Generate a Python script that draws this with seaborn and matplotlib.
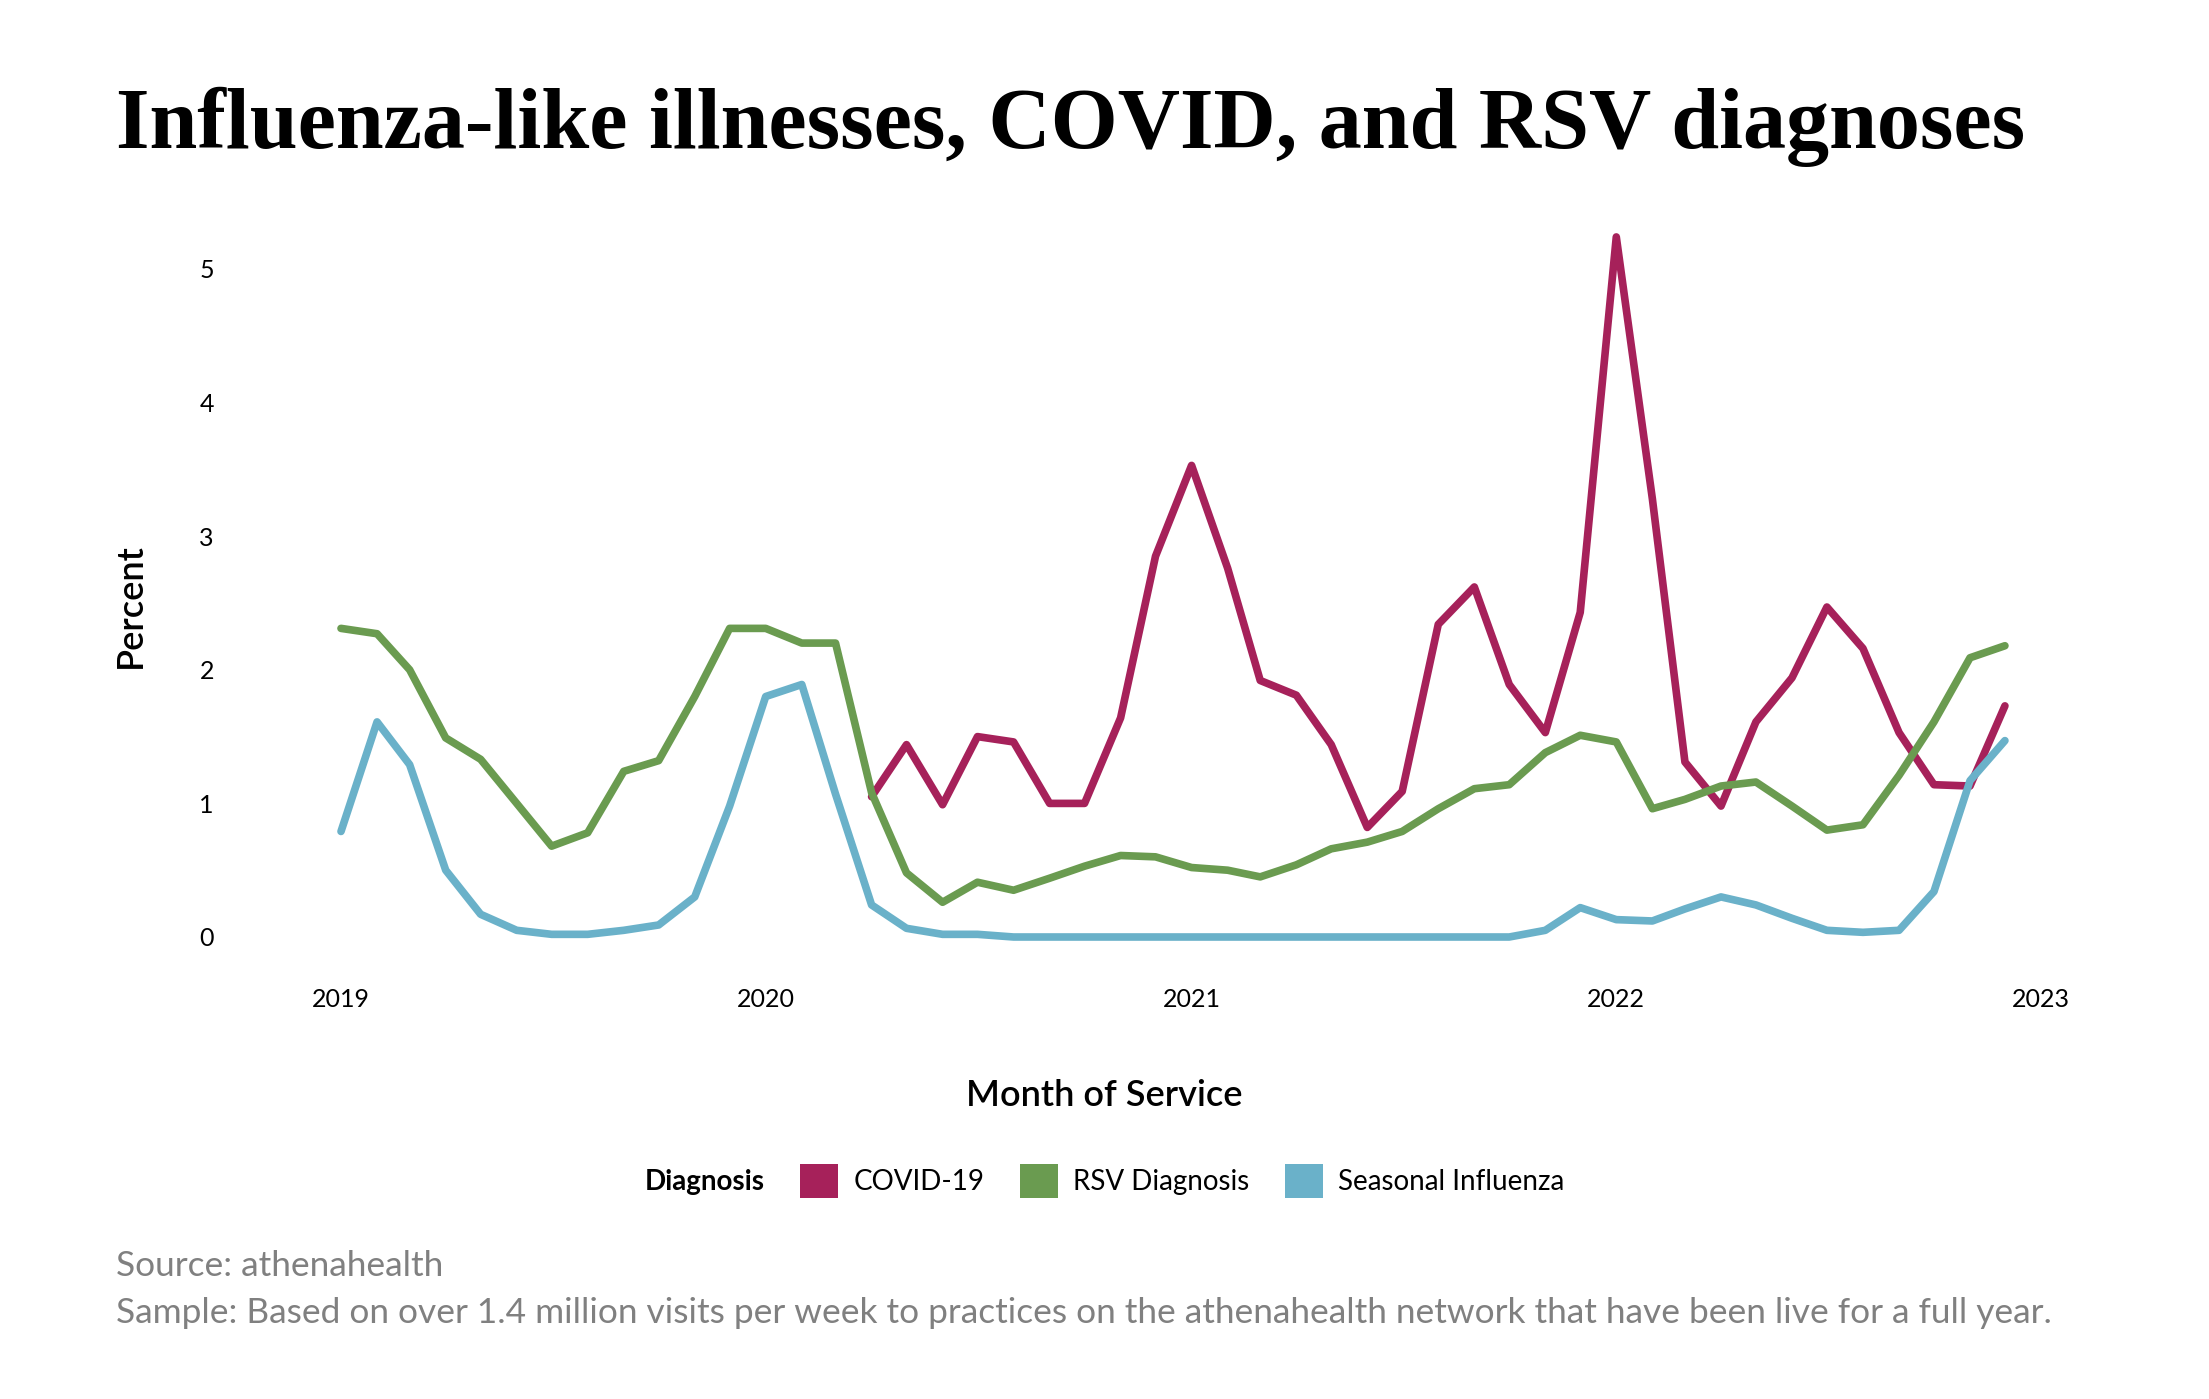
import pandas as pd
import numpy as np
import matplotlib
matplotlib.use('Agg')
from matplotlib import pyplot as plt
import matplotlib.dates as mdates
from matplotlib.patches import Patch
import seaborn as sns

# monthly values, Jan 2019 .. Dec 2022
months = pd.date_range('2019-01-01', '2022-12-01', freq='MS')

covid = [np.nan] * 15 + [
    1.05, 1.44, 0.99, 1.50, 1.46, 1.00, 1.00, 1.64, 2.85,
    3.53, 2.76, 1.92, 1.81, 1.44, 0.82, 1.09, 2.34, 2.62, 1.89, 1.53, 2.43,
    5.24, 3.28, 1.31, 0.98, 1.61, 1.94, 2.47, 2.16, 1.53, 1.14, 1.13, 1.73]

rsv = [2.31, 2.27, 2.00, 1.49, 1.33, 1.00, 0.68, 0.78, 1.24, 1.32, 1.80, 2.31,
       2.31, 2.20, 2.20, 1.08, 0.48, 0.26, 0.41, 0.35, 0.44, 0.53, 0.61, 0.60,
       0.52, 0.50, 0.45, 0.54, 0.66, 0.71, 0.79, 0.96, 1.11, 1.14, 1.38, 1.51,
       1.46, 0.96, 1.03, 1.13, 1.16, 0.98, 0.80, 0.84, 1.21, 1.61, 2.09, 2.18]

flu = [0.79, 1.61, 1.29, 0.50, 0.17, 0.05, 0.02, 0.02, 0.05, 0.09, 0.30, 0.98,
       1.80, 1.89, 1.07, 0.24, 0.065, 0.02, 0.02, 0.0, 0.0, 0.0, 0.0, 0.0,
       0.0, 0.0, 0.0, 0.0, 0.0, 0.0, 0.0, 0.0, 0.0, 0.0, 0.05, 0.22,
       0.13, 0.12, 0.21, 0.30, 0.24, 0.14, 0.05, 0.035, 0.05, 0.34, 1.17, 1.47]

series_names = ['COVID-19', 'RSV Diagnosis', 'Seasonal Influenza']
colors = ['#a6215a', '#6a9b50', '#6ab1c9']
year_ticks = ['2019', '2020', '2021', '2022', '2023']

df = pd.concat([
    pd.DataFrame({'month': months, 'value': vals, 'Diagnosis': name})
    for name, vals in zip(series_names, [covid, rsv, flu])
], ignore_index=True)

sns.set_theme(style='white')
plt.rcParams['font.family'] = ['Lato', 'DejaVu Sans']
plt.rcParams['text.color'] = 'black'
plt.rcParams['xtick.color'] = 'black'
plt.rcParams['ytick.color'] = 'black'

W, H = 2209, 1399
fig = plt.figure(figsize=(W / 100, H / 100), dpi=100)

# axes placed so 2019 -> 341px, 2023 -> 2041px, 0 -> 937px, 5 -> 269px
ppu = (937 - 269) / 5
y0, y1 = -0.25, 5.3
ax_left, ax_right = 300, 2080
ax = fig.add_axes([ax_left / W, 1 - (937 + (0 - y0) * ppu) / H,
                   (ax_right - ax_left) / W, (y1 - y0) * ppu / H])

sns.lineplot(data=df, x='month', y='value', hue='Diagnosis',
             palette=dict(zip(series_names, colors)), linewidth=5.5,
             legend=False, ax=ax)

d0 = mdates.date2num(pd.Timestamp('2019-01-01'))
d1 = mdates.date2num(pd.Timestamp('2023-01-01'))
ppd = (2041 - 341) / (d1 - d0)
ax.set_xlim(d0 - (341 - ax_left) / ppd, d1 + (ax_right - 2041) / ppd)
ax.set_ylim(y0, y1)

ax.set_xticks([mdates.date2num(pd.Timestamp(y + '-01-01')) for y in year_ticks])
ax.set_xticklabels(year_ticks)
ax.set_yticks(range(6))
ax.tick_params(axis='x', length=0, pad=13, labelsize=18)
ax.tick_params(axis='y', length=0, pad=62, labelsize=18)
ax.set_xlabel('')
ax.set_ylabel('')
for s in ax.spines.values():
    s.set_visible(False)

fig.text(116 / W, 1 - 148 / H, 'Influenza-like illnesses, COVID, and RSV diagnoses',
         family='Liberation Serif', weight='bold', fontsize=62, va='baseline')

fig.text(0.5, 1 - 1095 / H, 'Month of Service', ha='center', va='center',
         fontsize=26, weight='semibold')
fig.text(130 / W, 1 - 606 / H, 'Percent', ha='center', va='center',
         rotation=90, fontsize=26, weight='semibold')

handles = [Patch(facecolor='none', edgecolor='none')] + \
          [Patch(facecolor=c, edgecolor='none') for c in colors]
labels = ['Diagnosis'] + series_names
leg = fig.legend(handles, labels, loc='center', ncol=4, frameon=False,
                 bbox_to_anchor=(0.488, 1 - 1181 / H), fontsize=20,
                 handlelength=1.35, handleheight=1.5, handletextpad=0.55,
                 columnspacing=1.3)
leg.get_texts()[0].set_fontweight('bold')

fig.text(116 / W, 1 - 1276 / H, 'Source: athenahealth', color='#808080',
         fontsize=25.4, va='baseline')
fig.text(116 / W, 1 - 1323 / H,
         'Sample: Based on over 1.4 million visits per week to practices on the '
         'athenahealth network that have been live for a full year.',
         color='#808080', fontsize=25.4, va='baseline')

fig.savefig('out.png', dpi=100, facecolor='white')
